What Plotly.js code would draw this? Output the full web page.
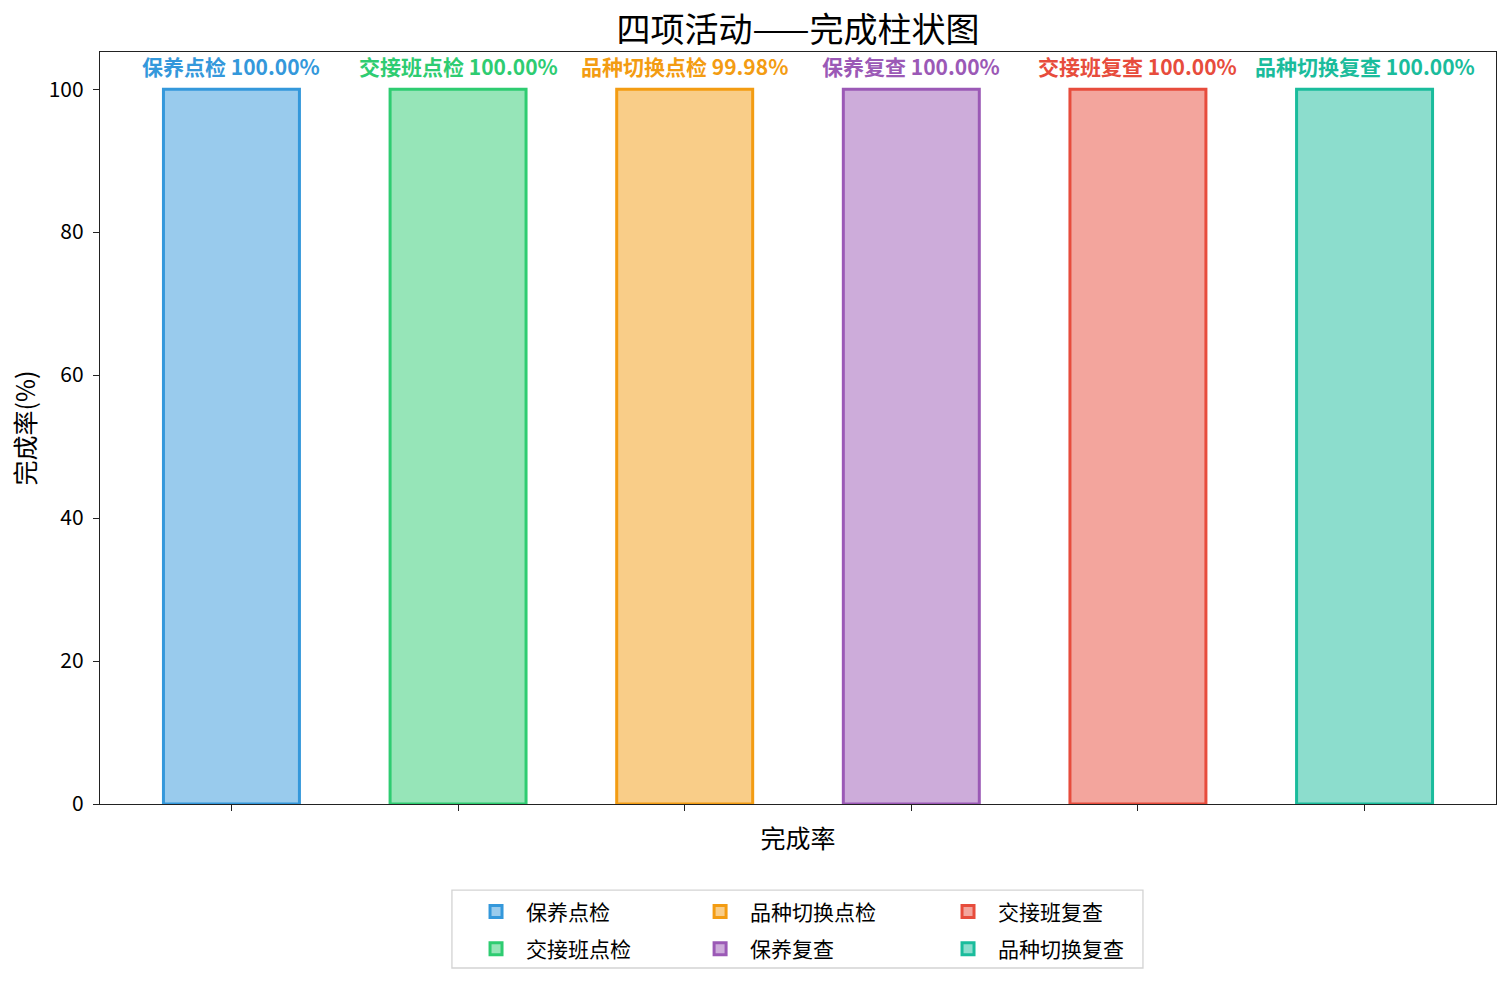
<!DOCTYPE html>
<html>
<head>
<meta charset="utf-8">
<script src="https://cdn.plot.ly/plotly-3.0.1.min.js"></script>
<style>
  body { margin: 0; background: #fff; }
  #chart { width: 1510px; height: 985px; }
</style>
</head>
<body>
<div id="chart"></div>
<script>
const categories = ["保养点检", "交接班点检", "品种切换点检", "保养复查", "交接班复查", "品种切换复查"];
const rates = [100.00, 100.00, 99.98, 100.00, 100.00, 100.00];
const edgeColors = ["#3498db", "#2ecc71", "#f39c12", "#9b59b6", "#e74c3c", "#1abc9c"];
// legend is laid out column-major: 3 columns of 2
const legendIds = ["legend", "legend", "legend2", "legend2", "legend3", "legend3"];

const FONT = "'Noto Sans CJK SC', 'Noto Sans', sans-serif";

function hexToRgba(hex, a) {
    const n = parseInt(hex.slice(1), 16);
    return `rgba(${(n >> 16) & 255},${(n >> 8) & 255},${n & 255},${a})`;
}

const traces = categories.map((cat, i) => ({
    type: "bar",
    x: [i],
    y: [rates[i]],
    width: 0.6,
    name: cat,
    legend: legendIds[i],
    legendgroup: "g" + i,
    marker: {
        color: hexToRgba(edgeColors[i], 0.5),
        line: {color: edgeColors[i], width: 3}
    },
    hovertemplate: `${cat}: %{y:.2f}%<extra></extra>`
}));

// value labels above bars
const annotations = categories.map((cat, i) => ({
    x: i,
    y: rates[i],
    xref: "x",
    yref: "y",
    text: `<b>${cat} ${rates[i].toFixed(2)}%</b>`,
    showarrow: false,
    yanchor: "bottom",
    yshift: 6,
    font: {size: 21, family: FONT, color: edgeColors[i]}
}));

function legendAt(x) {
    return {
        orientation: "v",
        x: x, xanchor: "left",
        y: -0.116, yanchor: "top",
        traceorder: "grouped",
        tracegroupgap: 7,
        itemwidth: 50,
        bgcolor: "rgba(0,0,0,0)",
        borderwidth: 0,
        font: {size: 21, family: FONT, color: "#000"}
    };
}

const layout = {
    width: 1510,
    height: 985,
    margin: {l: 100, r: 14, t: 52, b: 181},
    paper_bgcolor: "#fff",
    plot_bgcolor: "#fff",
    barmode: "overlay",
    font: {family: FONT, color: "#000"},
    title: {
        text: "四项活动——完成柱状图",
        font: {size: 34, family: FONT, color: "#000"},
        x: 0.5, xref: "paper", xanchor: "center",
        y: 0.9695, yref: "container", yanchor: "middle"
    },
    xaxis: {
        range: [-0.58, 5.58],
        tickvals: [0, 1, 2, 3, 4, 5],
        ticktext: ["", "", "", "", "", ""],
        ticks: "outside", ticklen: 6, tickwidth: 1.3, tickcolor: "#222",
        showgrid: false, zeroline: false,
        showline: true, linecolor: "#222", linewidth: 1.3, mirror: true,
        title: {text: "完成率", font: {size: 25, family: FONT}, standoff: 17}
    },
    yaxis: {
        range: [0, 105.2],
        tickvals: [0, 20, 40, 60, 80, 100],
        ticks: "outside", ticklen: 6, tickwidth: 1.3, tickcolor: "#222",
        ticklabelstandoff: 5,
        tickfont: {size: 21, family: FONT, color: "#000"},
        showgrid: false, zeroline: false,
        showline: true, linecolor: "#222", linewidth: 1.3, mirror: true,
        title: {text: "完成率(%)", font: {size: 25, family: FONT}, standoff: 5}
    },
    legend: legendAt(0.2622),
    legend2: legendAt(0.4227),
    legend3: legendAt(0.6003),
    shapes: [{
        type: "rect", xref: "paper", yref: "paper",
        x0: 0.2521, x1: 0.7471, y0: -0.1144, y1: -0.2181,
        line: {color: "#d3d3d3", width: 1.3},
        fillcolor: "rgba(0,0,0,0)"
    }],
    annotations: annotations,
    showlegend: true
};

Plotly.newPlot("chart", traces, layout, {displayModeBar: false});
</script>
</body>
</html>
